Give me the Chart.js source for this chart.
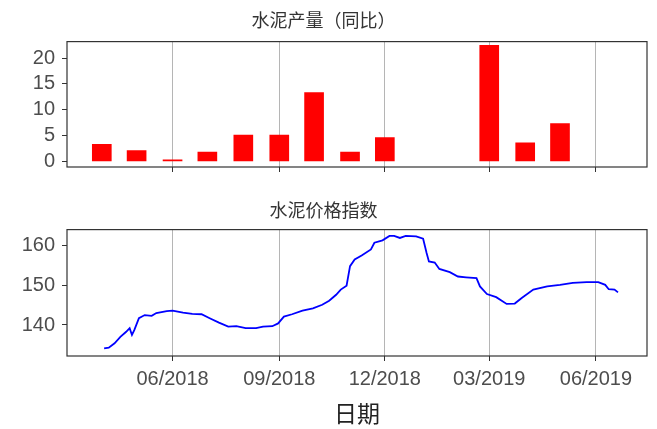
<!DOCTYPE html>
<html>
<head>
<meta charset="utf-8">
<script src="https://cdn.jsdelivr.net/npm/chart.js@4.4.1/dist/chart.umd.min.js"></script>
<style>
  body { margin: 0; background: #fff; }
  canvas { display: block; }
</style>
</head>
<body>
<canvas id="prod" width="657" height="180"></canvas>
<canvas id="price" width="657" height="249"></canvas>
<script>
// cement output, yoy %
const barDates = ['2018-04-01', '2018-05-01', '2018-06-01', '2018-07-01', '2018-08-01', '2018-09-01',
  '2018-10-01', '2018-11-01', '2018-12-01', '2019-03-01', '2019-04-01', '2019-05-01'];
const barValues = [3.3, 2.1, 0.3, 1.8, 5.1, 5.1, 13.3, 1.8, 4.6, 22.5, 3.6, 7.3];

// cement price index
const lineDates = ['2018-04-03', '2018-04-07', '2018-04-12', '2018-04-17', '2018-04-22', '2018-04-25',
  '2018-04-27', '2018-04-29', '2018-05-03', '2018-05-08', '2018-05-14', '2018-05-18', '2018-05-27',
  '2018-06-01', '2018-06-10', '2018-06-18', '2018-06-26', '2018-07-03', '2018-07-11', '2018-07-19',
  '2018-07-26', '2018-08-03', '2018-08-12', '2018-08-18', '2018-08-26', '2018-08-31', '2018-09-05',
  '2018-09-12', '2018-09-21', '2018-09-30', '2018-10-08', '2018-10-14', '2018-10-20', '2018-10-24',
  '2018-10-29', '2018-11-01', '2018-11-05', '2018-11-11', '2018-11-19', '2018-11-22', '2018-11-29',
  '2018-12-05', '2018-12-09', '2018-12-14', '2018-12-19', '2018-12-28', '2019-01-03', '2019-01-06',
  '2019-01-08', '2019-01-13', '2019-01-17', '2019-01-26', '2019-02-02', '2019-02-09', '2019-02-18',
  '2019-02-21', '2019-02-27', '2019-03-07', '2019-03-16', '2019-03-23', '2019-03-29', '2019-04-08',
  '2019-04-20', '2019-05-01', '2019-05-12', '2019-05-24', '2019-06-03', '2019-06-09', '2019-06-12',
  '2019-06-17', '2019-06-20'];
const lineValues = [134.1, 134.3, 135.4, 137.0, 138.3, 139.2,
  137.5, 138.7, 141.7, 142.5, 142.3, 143.0, 143.5,
  143.6, 143.1, 142.8, 142.7, 141.7, 140.6, 139.6,
  139.7, 139.2, 139.2, 139.6, 139.7, 140.4, 142.1,
  142.7, 143.6, 144.2, 145.1, 146.1, 147.6, 148.9,
  149.9, 154.8, 156.5, 157.5, 159.0, 160.7, 161.3,
  162.4, 162.4, 161.9, 162.4, 162.3, 161.7, 158.1,
  156.0, 155.7, 154.1, 153.3, 152.2, 152.0, 151.8,
  149.7, 147.8, 147.0, 145.3, 145.4, 146.8, 148.9,
  149.7, 150.1, 150.6, 150.8, 150.8, 150.1, 149.0,
  148.9, 148.2];

const xTickDates = ['2018-06-01', '2018-09-01', '2018-12-01', '2019-03-01', '2019-06-01'];
const xTickLabels = ['06/2018', '09/2018', '12/2018', '03/2019', '06/2019'];
const barTicks = [0, 5, 10, 15, 20];
const lineTicks = [140, 150, 160];
const xStart = '2018-03-02';
const xEnd = '2019-07-15';

function day(s) {
  const p = s.split('-');
  return Date.UTC(+p[0], +p[1] - 1, +p[2]) / 86400000;
}

const tickFont = { family: 'Liberation Sans', size: 20 };
const titleFont = { family: 'Noto Sans CJK SC', size: 18, weight: 'normal' };

const panelBorder = {
  id: 'panelBorder',
  afterDraw(chart) {
    const { ctx, chartArea: a } = chart;
    ctx.save();
    ctx.strokeStyle = '#333';
    ctx.lineWidth = 1.2;
    ctx.strokeRect(a.left, a.top, a.right - a.left, a.bottom - a.top);
    ctx.restore();
  }
};

function xAxis(showLabels, height) {
  return {
    type: 'linear',
    min: day(xStart),
    max: day(xEnd),
    offset: false,
    afterBuildTicks: (scale) => {
      scale.ticks = xTickDates.map((d) => ({ value: day(d) }));
    },
    afterFit: (scale) => { scale.height = height; },
    grid: { offset: false, color: '#b5b5b5', lineWidth: 1, tickColor: '#333', tickLength: 5 },
    border: { display: false },
    ticks: {
      display: showLabels,
      color: '#4d4d4d',
      font: tickFont,
      padding: 6,
      maxRotation: 0,
      autoSkip: false,
      callback: (v, i) => xTickLabels[i]
    },
    title: {
      display: showLabels,
      text: '日期',
      color: '#222',
      font: { family: 'Noto Sans CJK SC', size: 23 },
      padding: { top: 0, bottom: 2 }
    }
  };
}

function yAxis(min, max, ticks) {
  return {
    min: min,
    max: max,
    afterBuildTicks: (scale) => {
      scale.ticks = ticks.map((v) => ({ value: v }));
    },
    afterFit: (scale) => {
      scale.width = 67;
      scale.paddingTop = 0;
      scale.paddingBottom = 0;
    },
    grid: { drawOnChartArea: false, tickColor: '#333', tickLength: 5 },
    border: { display: false },
    ticks: { color: '#4d4d4d', font: tickFont, padding: 7 }
  };
}

new Chart(document.getElementById('prod'), {
  type: 'bar',
  data: {
    datasets: [{
      data: barDates.map((d, i) => ({ x: day(d), y: barValues[i] })),
      backgroundColor: '#ff0000',
      borderWidth: 0,
      barThickness: 19
    }]
  },
  options: {
    responsive: false,
    animation: false,
    layout: { padding: { left: 0, right: 10, top: 0, bottom: 0 } },
    plugins: {
      legend: { display: false },
      tooltip: { enabled: false },
      title: { display: true, text: '水泥产量（同比）', color: '#333', font: titleFont, padding: { top: 9, bottom: 11 } }
    },
    scales: {
      x: xAxis(false, 13),
      y: yAxis(-1.1, 23.2, barTicks)
    }
  },
  plugins: [panelBorder]
});

new Chart(document.getElementById('price'), {
  type: 'line',
  data: {
    datasets: [{
      data: lineDates.map((d, i) => ({ x: day(d), y: lineValues[i] })),
      borderColor: '#0000ff',
      borderWidth: 1.8,
      pointRadius: 0,
      tension: 0,
      fill: false
    }]
  },
  options: {
    responsive: false,
    animation: false,
    layout: { padding: { left: 0, right: 10, top: 0, bottom: 0 } },
    plugins: {
      legend: { display: false },
      tooltip: { enabled: false },
      title: { display: true, text: '水泥价格指数', color: '#333', font: titleFont, padding: { top: 19, bottom: 9 } }
    },
    scales: {
      x: xAxis(true, 73),
      y: yAxis(132.2, 164, lineTicks)
    }
  },
  plugins: [panelBorder]
});
</script>
</body>
</html>
